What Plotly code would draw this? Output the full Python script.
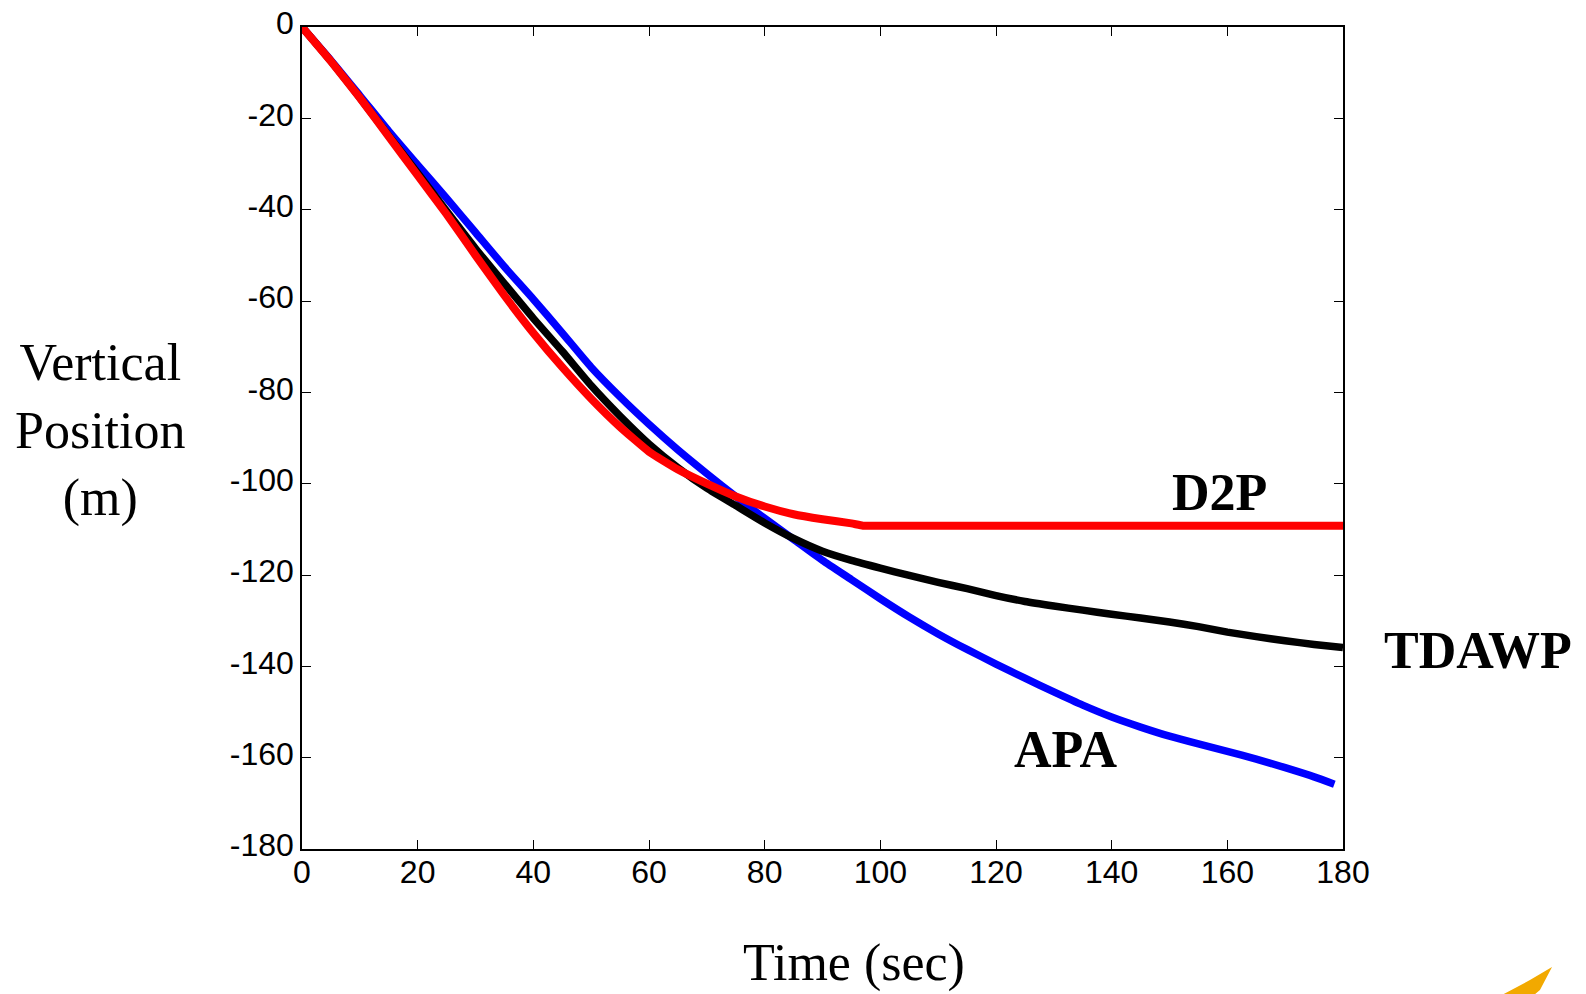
import plotly.graph_objects as go

# ---- data ----
t_apa = [0, 5, 10, 15, 20, 25, 30, 35, 40, 45, 50, 55, 60, 65, 70, 75, 80, 85, 90,
         95, 100, 105, 110, 115, 120, 125, 130, 135, 140, 145, 150, 155, 160, 165,
         170, 175, 178.5]
y_apa = [0, -7.3, -15, -22.8, -30.2, -37.5, -45, -52.5, -59.6, -67, -74.5, -81.0,
         -87.0, -92.6, -97.8, -102.8, -107.6, -112.2, -116.8, -121.0, -125.2, -129.2,
         -132.9, -136.3, -139.5, -142.6, -145.6, -148.5, -151.1, -153.3, -155.3,
         -157.0, -158.6, -160.3, -162.2, -164.2, -165.8]

t_tdawp = [0, 5, 10, 15, 20, 25, 30, 35, 40, 45, 50, 55, 60, 65, 70, 75, 80, 85, 90,
           95, 100, 105, 110, 115, 120, 125, 130, 135, 140, 145, 150, 155, 160, 165,
           170, 175, 180]
y_tdawp = [0, -7.5, -15.5, -23.8, -32, -40.3, -48.5, -56.2, -63.8, -71.0, -78.5,
           -85.2, -91.3, -96.5, -101.0, -104.8, -108.6, -112.0, -114.8, -116.8, -118.5,
           -120.1, -121.6, -123.0, -124.5, -125.8, -126.8, -127.7, -128.6, -129.4,
           -130.3, -131.3, -132.5, -133.5, -134.4, -135.2, -135.9]

t_d2p = [0, 5, 10, 15, 20, 25, 30, 35, 40, 45, 50, 55, 60, 65, 70, 75, 80, 85, 90,
         95, 97, 100, 120, 140, 160, 180]
y_d2p = [0, -7.5, -15.5, -24, -32.5, -41, -50, -58.8, -67, -74.5, -81.4, -87.6, -93.0,
         -96.9, -100, -102.8, -105, -106.7, -107.8, -108.7, -109.2, -109.2, -109.2,
         -109.2, -109.2, -109.2]

x_ticks = [0, 20, 40, 60, 80, 100, 120, 140, 160, 180]
y_ticks = [0, -20, -40, -60, -80, -100, -120, -140, -160, -180]

# ---- figure ----
W, H = 1586, 994
L, R, T, B = 302, 1343, 27, 849


def px(x):
    return (x - L) / (R - L)


def py(y):
    return (B - y) / (B - T)


fig = go.Figure()
fig.add_trace(go.Scatter(x=t_apa, y=y_apa, mode="lines", name="APA",
                         line=dict(color="#0000ff", width=7.5, shape="spline", smoothing=0.6)))
fig.add_trace(go.Scatter(x=t_tdawp, y=y_tdawp, mode="lines", name="TDAWP",
                         line=dict(color="#000000", width=7.5, shape="spline", smoothing=0.6)))
fig.add_trace(go.Scatter(x=t_d2p, y=y_d2p, mode="lines", name="D2P",
                         line=dict(color="#ff0000", width=8, shape="spline", smoothing=0.4)))

axis_common = dict(
    showgrid=False, zeroline=False, showline=True, linecolor="black", linewidth=1.5,
    mirror="ticks", ticks="inside", ticklen=9, tickwidth=1, tickcolor="black",
    automargin=False,
    tickfont=dict(family="Liberation Sans, Arial", size=32, color="black"),
)
fig.update_xaxes(range=[0, 180], tickvals=x_ticks, ticktext=[str(v) for v in x_ticks],
                 ticklabelstandoff=-6, **axis_common)
fig.update_yaxes(range=[-180, 0], tickvals=y_ticks, ticktext=[str(v) for v in y_ticks],
                 ticklabelshift=-4, **axis_common)

serif = "Liberation Serif, Times New Roman, serif"
ann = [
    dict(x=px(100), y=py(431), text="Vertical<br>Position<br>(m)",
         font=dict(family=serif, size=52, color="black")),
    dict(x=px(854), y=py(963), text="Time (sec)",
         font=dict(family=serif, size=52, color="black")),
    dict(x=px(1219), y=py(492), text="<b>D2P</b>",
         font=dict(family=serif, size=52, color="black")),
    dict(x=px(1065), y=py(749), text="<b>APA</b>",
         font=dict(family=serif, size=52, color="black")),
    dict(x=px(1478), y=py(650), text="<b>TDAWP</b>",
         font=dict(family=serif, size=52, color="black")),
]
for a in ann:
    a.update(xref="paper", yref="paper", showarrow=False, xanchor="center", yanchor="middle")
fig.update_layout(annotations=ann)

# small orange swoosh fragment in the lower-right corner
path = "M {:.4f},{:.4f} L {:.4f},{:.4f} L {:.4f},{:.4f} L {:.4f},{:.4f} L {:.4f},{:.4f} Z".format(
    px(1502), py(995), px(1530), py(980), px(1552), py(967), px(1540), py(990), px(1534), py(995))
fig.add_shape(type="path", path=path, xref="paper", yref="paper",
              fillcolor="#f2a900", line=dict(width=0))

fig.update_layout(
    width=W, height=H, autosize=False,
    margin=dict(l=L, r=W - R, t=T, b=H - B, autoexpand=False),
    paper_bgcolor="white", plot_bgcolor="white",
    showlegend=False,
)

fig.write_html("out.html")
